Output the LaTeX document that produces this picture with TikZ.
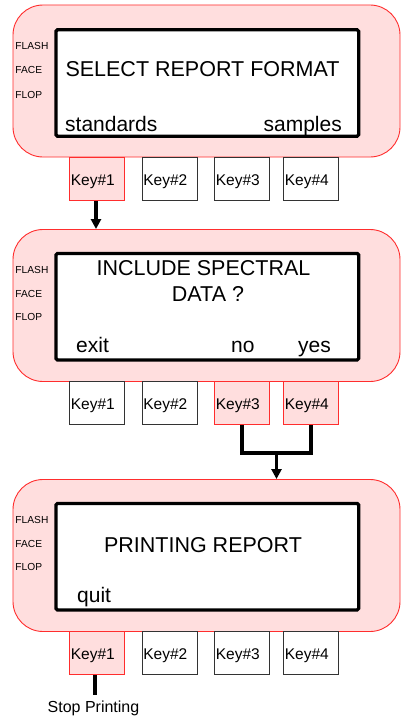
\documentclass[tikz,border=0pt]{standalone}
\usepackage{fontspec}
\setmainfont{Liberation Sans}
\usetikzlibrary{arrows.meta,calc}
\definecolor{pinkfill}{RGB}{255,222,222}
\definecolor{pinkline}{RGB}{255,45,45}
\begin{document}
\begin{tikzpicture}[x=1pt,y=-1pt,
 panel/.style={draw=pinkline,fill=pinkfill,line width=0.9pt,rounded corners=30pt,minimum width=387pt,minimum height=152pt,inner sep=0pt},
 screen/.style={draw=black,fill=white,line width=3.3pt,rounded corners=1.5pt,minimum width=302.7pt,minimum height=106.5pt,inner sep=0pt},
 keybox/.style={draw=black!80,fill=white,line width=0.8pt,minimum width=55pt,minimum height=43.4pt,inner sep=0pt},
 keyon/.style={keybox,draw=pinkline,fill=pinkfill},
 keylabel/.style={anchor=base west,inner sep=0pt,font=\fontsize{15.5}{18}\selectfont},
 big/.style={anchor=base,inner sep=0pt,font=\fontsize{21.5}{25}\selectfont},
 softw/.style={anchor=base west,inner sep=0pt,font=\fontsize{21}{25}\selectfont},
 softe/.style={anchor=base east,inner sep=0pt,font=\fontsize{21}{25}\selectfont},
 tiny/.style={anchor=base west,inner sep=0pt,font=\fontsize{10.2}{12}\selectfont},
 conn/.style={line width=3.8pt},
 arrowconn/.style={conn,-{Triangle[length=10pt,width=10pt]}}
]
\useasboundingbox[fill=white] (0,0) rectangle (401,717);

% ---------- Panel 1 ----------
\node[panel] (p1) at (206.5,81) {};
\node[screen] (s1) at (207.3,83) {};
\node[tiny] (f1a) at (15.3,50) {FLASH};
\node[tiny] (f1b) at (15.3,74) {FACE};
\node[tiny] (f1c) at (15.3,98) {FLOP};
\node[big] (t1) at (202.5,76) {SELECT REPORT FORMAT};
\node[softw] (t1l) at (65,131) {standards};
\node[softe] (t1r) at (342,131) {samples};
\node[keyon]  (k11) at (97,179) {};
\node[keybox] (k12) at (169.5,179) {};
\node[keybox] (k13) at (242,179) {};
\node[keybox] (k14) at (311,179) {};
\foreach \k/\n in {k11/1,k12/2,k13/3,k14/4}
  \node[keylabel] (\k l) at ($(\k.south west)+(1.5,-15.3)$) {Key\#\n};

% ---------- Panel 2 ----------
\node[panel] (p2) at (206.5,305.5) {};
\node[screen] (s2) at (207.3,306.7) {};
\node[tiny] (f2a) at (15.3,273) {FLASH};
\node[tiny] (f2b) at (15.3,297.7) {FACE};
\node[tiny] (f2c) at (15.3,320.7) {FLOP};
\node[big] (t2a) at (203.5,275.7) {INCLUDE SPECTRAL};
\node[big] (t2b) at (208,301) {DATA ?};
\node[softw] (t2l) at (76,352.7) {exit};
\node[softw] (t2m) at (231,352.7) {no};
\node[softw] (t2r) at (298,352.7) {yes};
\node[keybox] (k21) at (97,402.8) {};
\node[keybox] (k22) at (169.5,402.8) {};
\node[keyon]  (k23) at (242,402.8) {};
\node[keyon]  (k24) at (311,402.8) {};
\foreach \k/\n in {k21/1,k22/2,k23/3,k24/4}
  \node[keylabel] (\k l) at ($(\k.south west)+(1.5,-15.8)$) {Key\#\n};

% ---------- Panel 3 ----------
\node[panel] (p3) at (206.5,555.5) {};
\node[screen] (s3) at (207.3,556.7) {};
\node[tiny] (f3a) at (15.3,523) {FLASH};
\node[tiny] (f3b) at (15.3,547.7) {FACE};
\node[tiny] (f3c) at (15.3,570.7) {FLOP};
\node[big] (t3) at (203,552.7) {PRINTING REPORT};
\node[softw] (t3l) at (77,602) {quit};
\node[keyon]  (k31) at (97,653) {};
\node[keybox] (k32) at (169.5,653) {};
\node[keybox] (k33) at (242,653) {};
\node[keybox] (k34) at (311,653) {};
\foreach \k/\n in {k31/1,k32/2,k33/3,k34/4}
  \node[keylabel] (\k l) at ($(\k.south west)+(1.5,-16)$) {Key\#\n};

\node[anchor=base,inner sep=0pt,font=\fontsize{16}{18}\selectfont] (stop) at (93.5,712) {Stop Printing};

% ---------- Connectors ----------
\draw[arrowconn] ([xshift=-1pt]k11.south) -- ([xshift=-1pt]k11.south |- p2.north);
\coordinate (j) at ($($(k23.south)!0.5!(k24.south)$)+(0,28)$);
\draw[conn] (k23.south) |- (j) -| (k24.south);
\draw[arrowconn] (j) -- (j |- p3.north);
\draw[conn,shorten >=5pt] ([xshift=-2pt]k31.south) -- ([xshift=-2pt]k31.south |- stop.north);
\end{tikzpicture}
\end{document}
